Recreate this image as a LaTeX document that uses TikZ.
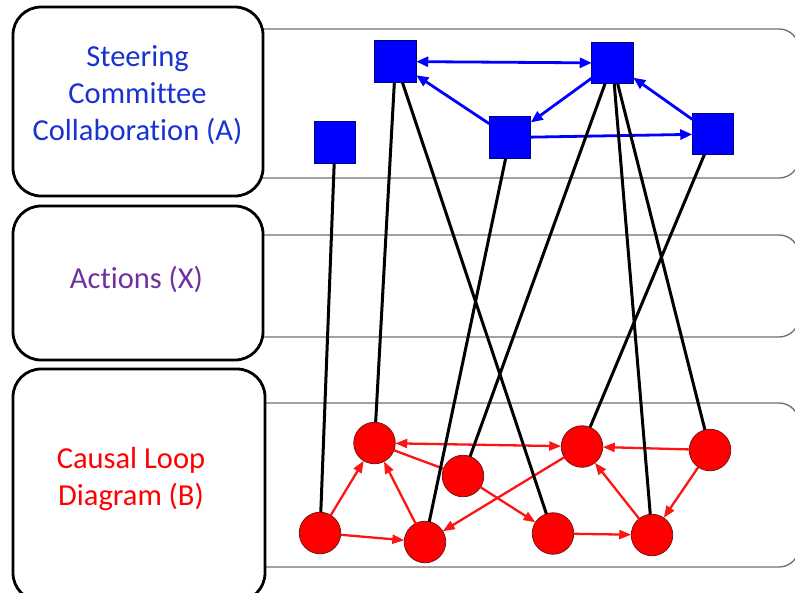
\documentclass[tikz,border=0pt]{standalone}
\usepackage{fontspec}
\setmainfont{Carlito}[Ligatures=NoCommon]
\usetikzlibrary{arrows.meta}
\definecolor{txtblue}{RGB}{25,50,210}
\definecolor{txtpurple}{RGB}{112,48,160}
\definecolor{lanegray}{RGB}{110,110,110}
\definecolor{sqblue}{RGB}{0,0,255}
\definecolor{sqedge}{RGB}{0,0,130}
\definecolor{circred}{RGB}{255,0,0}
\definecolor{circedge}{RGB}{120,20,20}
\definecolor{edgered}{RGB}{255,20,20}
\begin{document}
\begin{tikzpicture}[x=1pt,y=-1pt,
  lane/.style={draw=lanegray,line width=1.3pt,rounded corners=20pt},
  labelbox/.style={draw=black,line width=2.8pt,fill=white,rounded corners=28pt},
  labeltext/.style={font=\fontsize{30.5}{37}\selectfont,align=center,inner sep=0pt},
  sq/.style={draw=sqedge,line width=0.8pt,fill=sqblue,minimum size=41.5pt,inner sep=0pt,outer sep=0pt},
  circ/.style={circle,draw=circedge,line width=0.8pt,fill=circred,minimum size=41.5pt,inner sep=0pt,outer sep=0pt},
  bluearrow/.style={draw=sqblue,line width=2.8pt,-{Triangle[length=12pt,width=10pt]}},
  bluedouble/.style={draw=sqblue,line width=2.8pt,{Triangle[length=12pt,width=10pt]}-{Triangle[length=12pt,width=10pt]}},
  redarrow/.style={draw=edgered,line width=2.3pt,-{Triangle[length=12pt,width=9pt]}},
  reddouble/.style={draw=edgered,line width=2.3pt,{Triangle[length=12pt,width=9pt]}-{Triangle[length=12pt,width=9pt]}},
  redline/.style={draw=edgered,line width=2.3pt},
  link/.style={draw=black,line width=3pt}
]
\useasboundingbox (0,0) rectangle (795,592);
\clip (0,0) rectangle (795,592);

% lanes
\draw[lane] (200,29) rectangle (799,178);
\draw[lane] (200,235) rectangle (799,337);
\draw[lane] (200,403) rectangle (799,567);

% label boxes
\node[labelbox,minimum width=250pt,minimum height=189pt,inner sep=0pt] (boxA) at (138,101.5) {};
\node[labelbox,minimum width=250pt,minimum height=154pt,inner sep=0pt] (boxX) at (138,283) {};
\node[labelbox,minimum width=252pt,minimum height=232pt,inner sep=0pt] (boxB) at (139,485) {};

\node[labeltext,text=txtblue] (labA) at (137.5,95) {Steering\\Committee\\Collaboration (A)};
\node[labeltext,text=txtpurple,anchor=base] (labX) at (136.5,288) {Actions (X)};
\node[labeltext,text=red] (labB) at (131,479) {Causal Loop\\Diagram (B)};

% squares
\node[sq] (S0) at (335,142.5) {};
\node[sq] (S1) at (395.5,61.5) {};
\node[sq] (S2) at (612.5,63) {};
\node[sq] (S3) at (510,137.5) {};
\node[sq] (S4) at (713,134) {};

% circles
\node[circ] (C1) at (374.5,443) {};
\node[circ] (C2) at (463,476) {};
\node[circ] (C3) at (320,533) {};
\node[circ] (C4) at (425,542) {};
\node[circ] (C5) at (582,446.5) {};
\node[circ] (C6) at (710,450) {};
\node[circ] (C7) at (553,533.5) {};
\node[circ] (C8) at (652,535) {};

% blue arrows
\draw[bluedouble] (S1) -- (S2);
\draw[bluearrow] (S3) -- (S1);
\draw[bluearrow] (S2) -- (S3);
\draw[bluearrow] (S3) -- (S4);
\draw[bluearrow] (S4) -- (S2);

% red arrows
\draw[reddouble] (C1) -- (C5);
\draw[redline] (C1) -- (C2);
\draw[redarrow] (C2) -- (C7);
\draw[redarrow] (C5) -- (C4);
\draw[redarrow] (C3) -- (C1);
\draw[redarrow] (C4) -- (C1);
\draw[redarrow] (C3) -- (C4);
\draw[redarrow] (C7) -- (C8);
\draw[redarrow] (C8) -- (C5);
\draw[redarrow] (C6) -- (C5);
\draw[redarrow] (C6) -- (C8);

% black links
\draw[link] (S0) -- (C3);
\draw[link] (S1) -- (C1);
\draw[link] (S1) -- (C7);
\draw[link] (S3) -- (C4);
\draw[link] (S2) -- (C2);
\draw[link] (S2) -- (C8);
\draw[link] (S2) -- (C6);
\draw[link] (S4) -- (C5);
\end{tikzpicture}
\end{document}
